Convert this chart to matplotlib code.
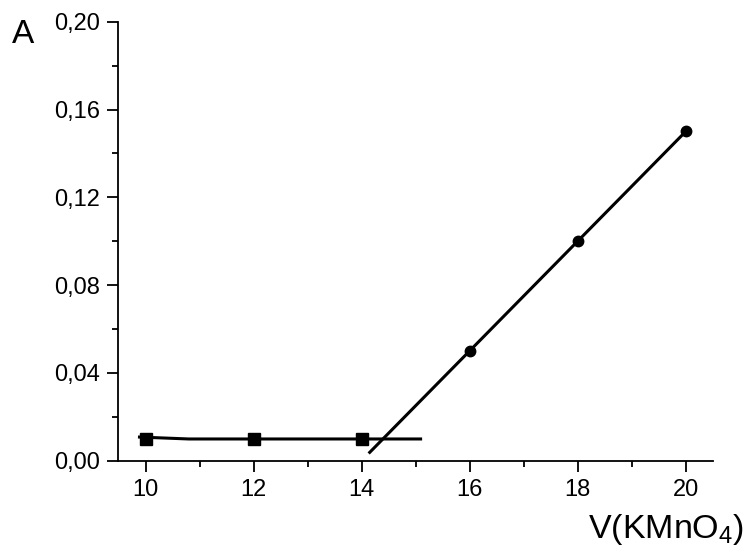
import matplotlib.pyplot as plt
from matplotlib.ticker import MultipleLocator, FuncFormatter

plt.rcParams['font.family'] = ['Liberation Sans', 'DejaVu Sans']
plt.rcParams['mathtext.default'] = 'regular'

# Data: blank series (squares) and titration series (circles)
x_blank = [10, 12, 14]
y_blank = [0.0101, 0.0100, 0.0100]
x_blank_fit = [9.86, 10.8, 15.12]
y_blank_fit = [0.0108, 0.0099, 0.0099]

x_titr = [16, 18, 20]
y_titr = [0.05, 0.10, 0.15]
x_titr_fit = [14.13, 20]
y_titr_fit = [0.0033, 0.15]

x_ticks = [10, 12, 14, 16, 18, 20]
y_ticks = [0.00, 0.04, 0.08, 0.12, 0.16, 0.20]

fig = plt.figure(figsize=(7.51, 5.48), dpi=100)
ax = fig.add_axes([0.1571, 0.1593, 0.9498 - 0.1571, 0.9604 - 0.1593])

# Lines
ax.plot(x_blank_fit, y_blank_fit, color="black", lw=2.2, solid_capstyle="butt")
ax.plot(x_blank, y_blank, ls="none", marker="s", ms=8, color="black")
ax.plot(x_titr_fit, y_titr_fit, color="black", lw=2.2, solid_capstyle="butt")
ax.plot(x_titr, y_titr, ls="none", marker="o", ms=7.5, color="black")

# Axes
ax.set_xlim(9.49, 20.51)
ax.set_ylim(0, 0.20)
ax.set_xticks(x_ticks)
ax.set_yticks(y_ticks)
ax.xaxis.set_minor_locator(MultipleLocator(1))
ax.yaxis.set_minor_locator(MultipleLocator(0.02))
ax.yaxis.set_major_formatter(FuncFormatter(lambda v, p: f"{v:.2f}".replace(".", ",")))
ax.tick_params(which="major", length=8, width=1.3, labelsize=17, pad=5)
ax.tick_params(which="minor", length=4, width=1.3)

for s in ["top", "right"]:
    ax.spines[s].set_visible(False)
for s in ["left", "bottom"]:
    ax.spines[s].set_linewidth(1.3)

# Labels
fig.text(12 / 751, 1 - 43 / 548, "A", fontsize=24, ha="left", va="baseline")
fig.text(744 / 751, 1 - 538 / 548, "V(KMnO$_4$)", fontsize=24.5, ha="right", va="baseline")

fig.savefig("out.png", dpi=100)
